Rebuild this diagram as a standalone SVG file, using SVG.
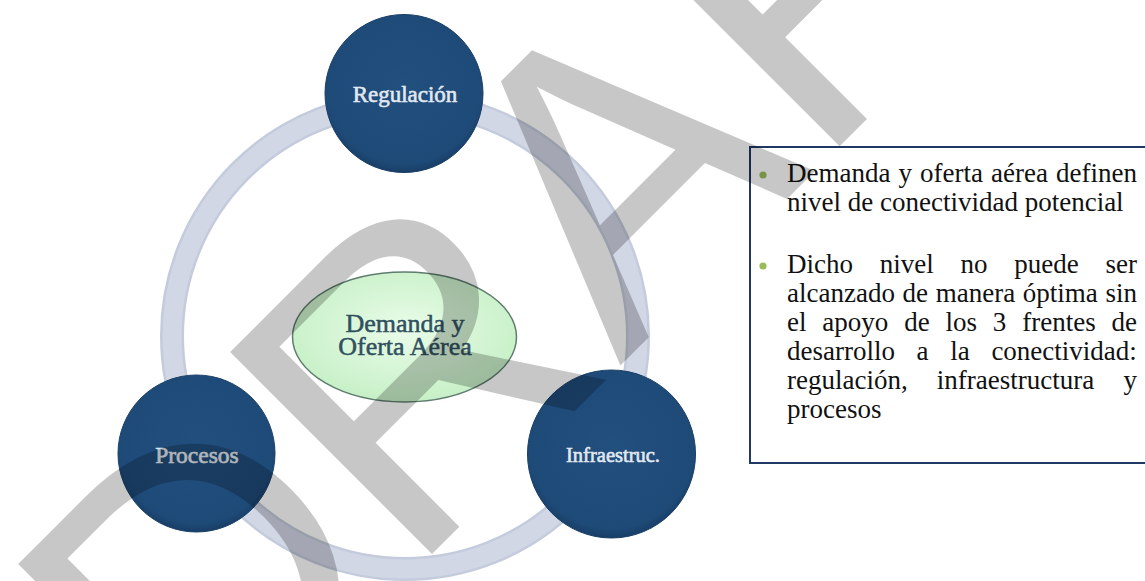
<svg xmlns="http://www.w3.org/2000/svg" width="1145" height="581" viewBox="0 0 1145 581">
<defs>
<radialGradient id="gEll" cx="50%" cy="45%" r="60%">
<stop offset="0" stop-color="#e9fce9"/>
<stop offset="1" stop-color="#c4efc4"/>
</radialGradient>
<radialGradient id="gNavy" cx="50%" cy="45%" r="55%">
<stop offset="0" stop-color="#214f7e"/>
<stop offset="0.9" stop-color="#1e4a78"/>
<stop offset="1" stop-color="#183e66"/>
</radialGradient>
</defs>
<style>
.node{fill:url(#gNavy);stroke:#1a3f67;stroke-width:1}
.ntxt{font-family:"Liberation Serif",serif;fill:#e2e8f0;stroke:#e2e8f0;stroke-width:0.6;text-anchor:middle}
.ctxt{font-family:"Liberation Serif",serif;font-size:26px;fill:#31505f;stroke:#31505f;stroke-width:0.5;text-anchor:middle}
.btxt{font-family:"Liberation Serif",serif;font-size:27px;fill:#111111}
.dot{fill:#9bbb59}
</style>
<rect width="1145" height="581" fill="#ffffff"/>
<g id="connectors">
<circle cx="405" cy="336" r="233" fill="none" stroke="#c4cbdc" stroke-width="24"/>
<circle cx="405" cy="336" r="233" fill="none" stroke="#d2d7e6" stroke-width="19"/>
</g>
<g id="center">
<ellipse cx="404.5" cy="337" rx="112" ry="65" fill="url(#gEll)" stroke="#5f7d6e" stroke-width="1.5"/>
<text class="ctxt" x="405" y="332">Demanda y</text>
<text class="ctxt" x="405" y="355">Oferta Aérea</text>
</g>
<g id="regulacion">
<circle class="node" cx="404" cy="93.5" r="79"/>
<text class="ntxt" x="405" y="102" font-size="23">Regulación</text>
</g>
<g id="procesos">
<circle class="node" cx="196.5" cy="453.5" r="78.5"/>
<text class="ntxt" x="197" y="463" font-size="23.5">Procesos</text>
</g>
<g id="infraestruc">
<circle class="node" cx="611.5" cy="454" r="84"/>
<text class="ntxt" x="613" y="462" font-size="20.5">Infraestruc.</text>
</g>
<g id="textbox">
<rect x="750" y="147" width="420" height="316" fill="#ffffff" stroke="#1f3864" stroke-width="2"/>
<circle class="dot" cx="763" cy="175" r="3.6"/>
<circle class="dot" cx="763" cy="266" r="3.6"/>
<text class="btxt" x="787" y="182" word-spacing="1.3">Demanda y oferta aérea definen</text>
<text class="btxt" x="787" y="211">nivel de conectividad potencial</text>
<text class="btxt" x="787" y="273" word-spacing="20">Dicho nivel no puede ser</text>
<text class="btxt" x="787" y="302" word-spacing="0.9">alcanzado de manera óptima sin</text>
<text class="btxt" x="787" y="331" word-spacing="9.1">el apoyo de los 3 frentes de</text>
<text class="btxt" x="787" y="360" word-spacing="14.9">desarrollo a la conectividad:</text>
<text class="btxt" x="787" y="389" word-spacing="22.4">regulación, infraestructura y</text>
<text class="btxt" x="787" y="418">procesos</text>
</g>
<g id="watermark">
<text transform="translate(196,790) rotate(-45)" font-family="Liberation Sans, Arial, sans-serif" font-size="415" fill="#000000" fill-opacity="0.22">DRAFT</text>
</g>
</svg>
